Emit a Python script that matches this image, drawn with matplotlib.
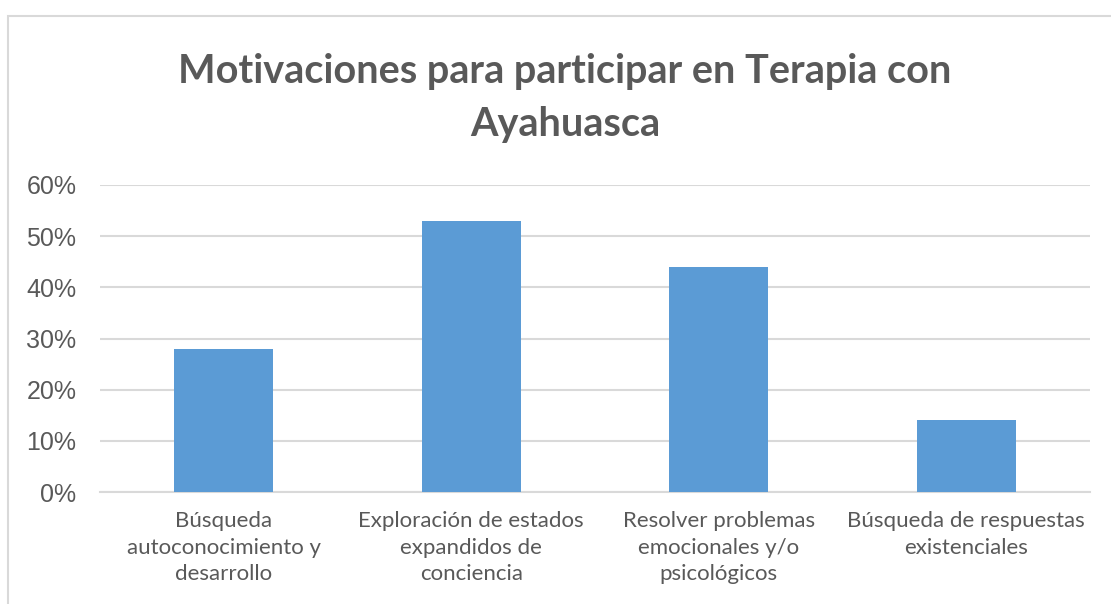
import matplotlib
matplotlib.use("Agg")
import matplotlib.pyplot as plt
from matplotlib.patches import Rectangle
from matplotlib.ticker import PercentFormatter

categories = [
    "Búsqueda\nautoconocimiento y\ndesarrollo",
    "Exploración de estados\nexpandidos de\nconciencia",
    "Resolver problemas\nemocionales y/o\npsicológicos",
    "Búsqueda de respuestas\nexistenciales",
]
values = [0.28, 0.53, 0.44, 0.14]
yticks = [0, 0.1, 0.2, 0.3, 0.4, 0.5, 0.6]

text_color = "#595959"
grid_color = "#D9D9D9"
bar_color = "#5B9BD5"

fig = plt.figure(figsize=(11.11, 6.04), dpi=100)

# chart frame (only left and top edges are visible in the crop)
fig.patches.append(Rectangle((8 / 1111, -0.1), 1.2, 1 - 16 / 604 + 0.1,
                             transform=fig.transFigure, fill=False,
                             edgecolor=grid_color, linewidth=1.5))

ax = fig.add_axes([100 / 1111, 1 - 492 / 604, 990 / 1111, 307 / 604])
x = range(len(categories))
ax.bar(x, values, width=0.4, color=bar_color, zorder=3)

ax.set_xlim(-0.5, len(categories) - 0.5)
ax.set_ylim(0, 0.6)
ax.set_yticks(yticks)
ax.yaxis.set_major_formatter(PercentFormatter(1.0, decimals=0))
ax.set_xticks(list(x))
ax.set_xticklabels(categories, fontsize=16, color=text_color,
                   family=["Lato", "DejaVu Sans"], linespacing=1.4)
for lbl in ax.get_yticklabels():
    lbl.set_fontsize(18)
    lbl.set_color(text_color)
    lbl.set_family(["Liberation Sans", "DejaVu Sans"])

ax.tick_params(axis="both", length=0)
ax.tick_params(axis="y", pad=17)
ax.tick_params(axis="x", pad=14)
ax.grid(axis="y", color=grid_color, linewidth=1.5, zorder=0)
for s in ["top", "right", "left"]:
    ax.spines[s].set_visible(False)
ax.spines["bottom"].set_color(grid_color)
ax.spines["bottom"].set_linewidth(1.5)

fig.text(565 / 1111, 1 - 98 / 604,
         "Motivaciones para participar en Terapia con\nAyahuasca",
         ha="center", va="center", fontsize=28.5, fontweight="bold",
         color=text_color, family=["Lato", "DejaVu Sans"], linespacing=1.5)

fig.savefig("out.png", dpi=100)
